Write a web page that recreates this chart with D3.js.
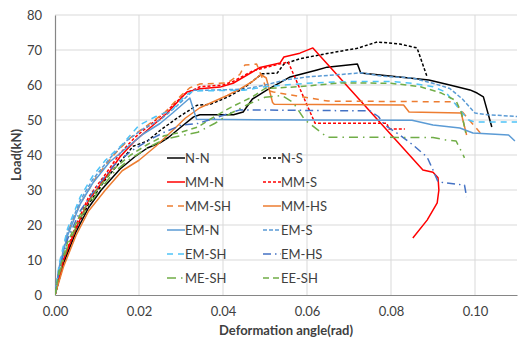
<!DOCTYPE html>
<html><head><meta charset="utf-8">
<script src="https://cdn.jsdelivr.net/npm/d3@7"></script>
<style>
html,body{margin:0;padding:0;background:#fff;}
text{font-family:Lato,"Open Sans",sans-serif;fill:#404040;}
</style></head>
<body><svg id="chart" width="518" height="345"></svg>
<script>
// ---- data (deformation angle rad, load kN) ----
const xTicks = [0, 0.02, 0.04, 0.06, 0.08, 0.10];
const yTicks = [0, 10, 20, 30, 40, 50, 60, 70, 80];

const nN = [[0,0],[0.002,9],[0.005,18],[0.008,25],[0.011,30],[0.0155,36],[0.019,39.5],[0.022,42],[0.025,43.5],[0.027,45],[0.030,48],[0.033,50.9],[0.0345,51.5],[0.0425,51.5],[0.0448,52.3],[0.047,56],[0.0505,58.6],[0.056,62.3],[0.0624,64.3],[0.0648,65.1],[0.072,66],[0.0728,63.4],[0.082,62.3],[0.089,61.4],[0.094,60],[0.0988,58.6],[0.1005,57.7],[0.102,56.6],[0.104,48]];
const nS = [[0,0],[0.002,9],[0.005,19],[0.008,26],[0.012,33],[0.0155,38],[0.0186,42.5],[0.022,44],[0.025,47],[0.029,50.5],[0.0338,54.2],[0.037,54.5],[0.041,56.5],[0.0448,59],[0.0493,63.2],[0.0529,63.4],[0.0545,66],[0.0583,67.5],[0.0648,69],[0.072,70.5],[0.0767,72.3],[0.0821,71.7],[0.0862,70.6],[0.0886,62.3]];
const mmN = [[0,0],[0.002,10],[0.005,19],[0.008,27],[0.012,33.5],[0.0155,39.5],[0.019,44],[0.0219,47],[0.0267,52],[0.0314,58],[0.0345,58.9],[0.0393,59.4],[0.0424,60.5],[0.0488,65],[0.0536,66.3],[0.0545,68],[0.0583,69.1],[0.0614,70.6],[0.0876,35.7],[0.09,35.1],[0.0912,33.5],[0.0914,30],[0.091,26.3],[0.0886,21.4],[0.0852,16.3]];
const mmS = [[0,0],[0.002,10],[0.005,20],[0.008,28],[0.012,34.5],[0.0155,40.5],[0.019,45],[0.022,48],[0.027,53],[0.031,57.5],[0.0345,59.5],[0.04,60],[0.0424,61],[0.047,64],[0.0555,66.6],[0.0619,49.1],[0.079,49.1],[0.0795,47.4],[0.0833,47.4]];
const mmSH = [[0,0],[0.001,8],[0.003,18],[0.006,26],[0.01,34],[0.014,40],[0.018,45],[0.022,48.5],[0.026,52],[0.03,57],[0.0321,59.2],[0.0345,60.3],[0.041,60.6],[0.044,63],[0.0452,65.7],[0.048,66],[0.0505,58.5],[0.052,58],[0.065,55.4],[0.095,55.2],[0.0965,53],[0.1017,45.7]];
const mmHS = [[0,0],[0.002,8],[0.005,17],[0.008,24],[0.012,30],[0.016,35.5],[0.02,38.5],[0.024,42.5],[0.028,47],[0.031,50.5],[0.0345,53.5],[0.041,57],[0.044,58.8],[0.047,61],[0.049,63],[0.0503,62],[0.0518,55],[0.0522,54.5],[0.083,54.3],[0.0843,52.3],[0.0967,52],[0.098,45.7]];
const emN = [[0,0],[0.001,8],[0.003,17],[0.006,26],[0.009,32],[0.013,38],[0.017,42],[0.021,46],[0.025,49],[0.028,52],[0.0321,56.3],[0.0337,50.2],[0.06,50],[0.085,49.9],[0.09,48.6],[0.0964,47.7],[0.0995,46.3],[0.108,45.7],[0.1095,44]];
const emS = [[0,0],[0.001,8],[0.003,18],[0.006,27],[0.009,33],[0.013,39],[0.017,44],[0.021,47.5],[0.025,50],[0.029,54],[0.033,58.5],[0.036,58.5],[0.045,58.8],[0.05,60],[0.055,61.5],[0.06,62.3],[0.068,63],[0.073,63.5],[0.078,62.5],[0.085,62],[0.09,60.5],[0.094,59],[0.097,56],[0.1,52],[0.103,51.5],[0.11,51]];
const emSH = [[0,0],[0.001,9],[0.003,19],[0.006,28],[0.009,34],[0.012,38.5],[0.016,43],[0.02,48.5],[0.024,51],[0.028,53],[0.031,57],[0.033,58.3],[0.045,58.5],[0.05,59.5],[0.06,60.5],[0.07,61],[0.08,61],[0.085,60.5],[0.09,59.5],[0.093,58],[0.095,55],[0.097,52],[0.0985,50],[0.1,49.4],[0.11,49.4]];
const emHS = [[0,0],[0.001,7],[0.003,16],[0.006,24],[0.01,31],[0.014,37],[0.018,41],[0.022,44],[0.026,46.5],[0.03,48.5],[0.034,49],[0.038,50.5],[0.044,52.9],[0.075,52.6],[0.077,51],[0.0785,48.6],[0.0821,45.7],[0.0852,42.9],[0.0886,39.4],[0.09,35.7],[0.0912,32.3],[0.0975,31.4],[0.098,28]];
const meSH = [[0,0],[0.001,6],[0.003,14],[0.006,22],[0.01,29],[0.014,35],[0.018,39],[0.022,42],[0.026,44.5],[0.03,45.5],[0.034,46.5],[0.038,49],[0.042,52],[0.046,54.5],[0.05,56.5],[0.054,57],[0.0567,55],[0.0595,50],[0.0635,46.3],[0.0648,45.1],[0.09,45],[0.093,44.3],[0.0955,44],[0.0975,39.2]];
const eeSH = [[0,0],[0.001,7],[0.003,15],[0.006,23],[0.01,30],[0.014,36],[0.018,40],[0.022,43],[0.026,45.5],[0.03,46.5],[0.034,48],[0.038,51],[0.042,53.7],[0.047,56.6],[0.05,59],[0.058,59.5],[0.068,60.6],[0.08,60.5],[0.087,59.5],[0.092,57.7],[0.0955,55.5],[0.0968,52],[0.0978,46.3]];

const names = ["N-N","N-S","MM-N","MM-S","MM-SH","MM-HS","EM-N","EM-S","EM-SH","EM-HS","ME-SH","EE-SH"];
const values = [nN, nS, mmN, mmS, mmSH, mmHS, emN, emS, emSH, emHS, meSH, eeSH];

// ---- styles ----
const styles = {
  "N-N":  {c:"#000000", d:null},
  "N-S":  {c:"#000000", d:"3,2"},
  "MM-N": {c:"#ff0000", d:null},
  "MM-S": {c:"#ff0000", d:"3,2"},
  "MM-SH":{c:"#ed7d31", d:"6,5"},
  "MM-HS":{c:"#ed7d31", d:null},
  "EM-N": {c:"#5b9bd5", d:null},
  "EM-S": {c:"#5b9bd5", d:"4,2"},
  "EM-SH":{c:"#4fc3f7", d:"6,5"},
  "EM-HS":{c:"#4472c4", d:"8,4,1.5,4"},
  "ME-SH":{c:"#70ad47", d:"9,5,1.5,5"},
  "EE-SH":{c:"#70ad47", d:"6,4"}
};

const svg = d3.select("#chart");
const L = 55, R = 517, T = 15, B = 295;
const x = d3.scaleLinear().domain([0, 0.11]).range([L, R]);
const y = d3.scaleLinear().domain([0, 80]).range([B, T]);

// gridlines
svg.append("g").selectAll("line").data(yTicks.filter(d=>d>0)).join("line")
  .attr("x1", L).attr("x2", R).attr("y1", d=>y(d)).attr("y2", d=>y(d))
  .attr("stroke", "#d9d9d9").attr("stroke-width", 1);
svg.append("g").selectAll("line").data(xTicks.filter(d=>d>0)).join("line")
  .attr("y1", T).attr("y2", B).attr("x1", d=>x(d)).attr("x2", d=>x(d))
  .attr("stroke", "#d9d9d9").attr("stroke-width", 1);

// axes
const xAxis = svg.append("g").attr("transform", `translate(0,${B})`)
  .call(d3.axisBottom(x).tickValues(xTicks).tickFormat(d3.format(".2f")).tickSize(0).tickPadding(12));
const yAxis = svg.append("g").attr("transform", `translate(${L},0)`)
  .call(d3.axisLeft(y).tickValues(yTicks).tickSize(0).tickPadding(13));
[xAxis, yAxis].forEach(a => {
  a.select(".domain").attr("stroke", "#868686").attr("stroke-width", 1.2);
  a.selectAll("text").style("font-family", "Lato, sans-serif").style("font-size", "13px").attr("fill", "#404040");
});

// clip
svg.append("clipPath").attr("id", "clip").append("rect")
  .attr("x", L).attr("y", T - 5).attr("width", R - L + 1).attr("height", B - T + 5);

const line = d3.line().x(d => x(d[0])).y(d => y(d[1]));
const g = svg.append("g").attr("clip-path", "url(#clip)");
names.forEach((n, i) => {
  g.append("path").datum(values[i])
    .attr("d", line).attr("fill", "none")
    .attr("stroke", styles[n].c).attr("stroke-width", 1.5)
    .attr("stroke-dasharray", styles[n].d)
    .attr("stroke-linejoin", "round");
});

// legend
const legCols = [167, 263];
const legRows = [158, 182, 206, 230, 254, 278];
names.forEach((n, i) => {
  const cx = legCols[i % 2], cy = legRows[Math.floor(i / 2)];
  svg.append("line").attr("x1", cx).attr("x2", cx + 18).attr("y1", cy).attr("y2", cy)
    .attr("stroke", styles[n].c).attr("stroke-width", 1.5).attr("stroke-dasharray", styles[n].d);
  svg.append("text").attr("x", cx + 18).attr("y", cy).attr("dy", "0.35em")
    .style("font-size", "13px").text(n);
});

// axis titles
svg.append("text").attr("x", (L + R) / 2).attr("y", 335)
  .attr("text-anchor", "middle").style("font-size", "13px").style("font-weight", "bold")
  .text("Deformation angle(rad)");
svg.append("text").attr("transform", `translate(21,${(T + B) / 2}) rotate(-90)`)
  .attr("text-anchor", "middle").style("font-size", "13px").style("font-weight", "bold")
  .text("Load(kN)");
</script></body></html>
